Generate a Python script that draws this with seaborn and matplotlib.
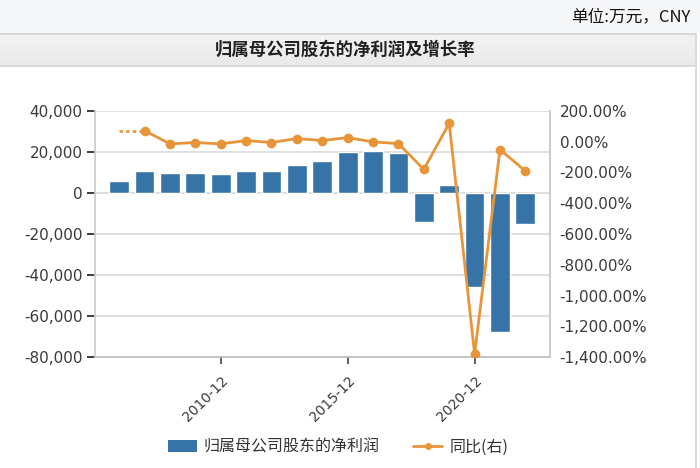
import matplotlib
matplotlib.use("Agg")
import numpy as np
import pandas as pd
import matplotlib.pyplot as plt
import seaborn as sns
from matplotlib.patches import Rectangle, Patch
from matplotlib.lines import Line2D
from matplotlib.ticker import FuncFormatter, FixedLocator

# ---- data ----
periods = ["2006-12", "2007-12", "2008-12", "2009-12", "2010-12", "2011-12",
           "2012-12", "2013-12", "2014-12", "2015-12", "2016-12", "2017-12",
           "2018-12", "2019-12", "2020-12", "2021-12", "2022-12"]
net_profit = [6000, 10600, 9900, 9900, 9100, 10600, 10600, 13700, 15600,
              20000, 20700, 19500, -14000, 4100, -46000, -68000, -15100]
yoy_pct = [np.nan, 72.6, -13.8, -5.0, -13.8, 7.8, -5.0, 20.7, 7.8,
           27.0, -1.0, -12.0, -180.0, 120.0, -1380.0, -51.0, -190.0]
shown_ticks = ["2010-12", "2015-12", "2020-12"]
title = "归属母公司股东的净利润及增长率"
unit_text = "单位:万元，CNY"
bar_label = "归属母公司股东的净利润"
line_label = "同比(右)"

BAR_C = "#3673a6"
LINE_C = "#e8953a"
GRID_C = "#d9d9d9"
TXT_C = "#3a3a3a"

sns.set_theme(style="white")
plt.rcParams["font.family"] = ["Noto Sans CJK SC", "DejaVu Sans"]

W, H = 700, 468
fig = plt.figure(figsize=(7, 4.68), dpi=100)
fig.patch.set_facecolor("white")

def fy(px):
    return 1 - px / H

# top strip
fig.patches.append(Rectangle((0, fy(33)), 1, 33 / H, transform=fig.transFigure,
                             facecolor="#f6f7f9", edgecolor="none", zorder=-5))
# title band gradient
grad = np.linspace(0, 1, 50).reshape(-1, 1)
gax = fig.add_axes([0, fy(66), 696 / W, 33 / H], zorder=-4)
gax.imshow(grad, aspect="auto", cmap=matplotlib.colors.LinearSegmentedColormap.from_list(
    "g", ["#f4f4f4", "#e9e9e9"]), extent=[0, 1, 0, 1])
gax.set_axis_off()
fig.add_artist(Line2D([0, 696 / W], [fy(33.5), fy(33.5)], transform=fig.transFigure,
                      color="#cfcfcf", lw=1.2))
fig.add_artist(Line2D([0, 696 / W], [fy(66), fy(66)], transform=fig.transFigure,
                      color="#d6d6d6", lw=1.2))
fig.add_artist(Line2D([696 / W, 696 / W], [0, fy(33.5)], transform=fig.transFigure,
                      color="#dcdcdc", lw=1.5))

fig.text(690 / W, fy(17), unit_text, ha="right", va="center", fontsize=12, color="#111111")
fig.text(345 / W, fy(50), title, ha="center", va="center", fontsize=12.5,
         fontweight="bold", color="#222222")

# main axes
left, right, top, bottom = 95, 550, 111, 357
ax = fig.add_axes([left / W, fy(bottom), (right - left) / W, (bottom - top) / H])
df = pd.DataFrame({"period": periods, "profit": net_profit})
sns.barplot(data=df, x="period", y="profit", color=BAR_C, saturation=1, width=0.78,
            ax=ax, zorder=2)
ax.set_xlim(-0.95, 16.97)
ax.set_ylim(-80000, 40000)
ax.yaxis.set_major_locator(FixedLocator(np.arange(-80000, 40001, 20000)))
ax.yaxis.set_major_formatter(FuncFormatter(lambda v, p: f"{int(v):,}"))
ax.grid(axis="y", color=GRID_C, lw=1.2)
ax.set_axisbelow(True)
ax.set_xlabel("")
ax.set_ylabel("")
ax.spines["top"].set_visible(False)
for s in ["left", "right"]:
    ax.spines[s].set_color("#cccccc")
ax.spines["bottom"].set_color("#bdbdbd")
ax.spines["bottom"].set_linewidth(1.2)

pos = [periods.index(t) for t in shown_ticks]
ax.set_xticks(pos)
ax.set_xticklabels(shown_ticks, rotation=45, ha="right", va="top",
                   rotation_mode="anchor", fontsize=10, color=TXT_C,
                   family="DejaVu Sans")
ax.tick_params(axis="x", bottom=True, length=5, width=1.2, color="#444444", pad=7)
ax.tick_params(axis="y", left=False, labelsize=11, labelcolor=TXT_C, pad=3)
for lab in ax.get_yticklabels():
    lab.set_family("DejaVu Sans")

# right axis
ax2 = ax.twinx()
xs = np.arange(len(periods))
valid = ~np.isnan(np.array(yoy_pct))
sns.lineplot(x=xs[valid], y=np.array(yoy_pct)[valid], ax=ax2, color=LINE_C,
             lw=2, marker="o", markersize=7, markeredgewidth=0, zorder=3)
first = int(np.argmax(valid))
ax2.plot([first - 1, first], [yoy_pct[first], yoy_pct[first]], ls=(0, (1.2, 1.2)),
         color=LINE_C, lw=2, zorder=3)
ax2.set_ylim(-1400, 200)
ax2.yaxis.set_major_locator(FixedLocator(np.arange(-1400, 201, 200)))
ax2.yaxis.set_major_formatter(FuncFormatter(lambda v, p: f"{v:,.2f}%"))
ax2.tick_params(axis="y", right=False, labelsize=11, labelcolor=TXT_C, pad=1)
for lab in ax2.get_yticklabels():
    lab.set_family("DejaVu Sans")
ax2.set_xlim(-0.95, 16.97)
for s in ["top", "left", "bottom"]:
    ax2.spines[s].set_visible(False)
ax2.spines["right"].set_color("#cccccc")
ax2.grid(False)

handles = [Patch(facecolor=BAR_C, edgecolor="none"),
           Line2D([0], [0], color=LINE_C, lw=2, marker="o", markersize=5,
                  markeredgewidth=0)]
fig.legend(handles, [bar_label, line_label], loc="center", ncol=2,
           bbox_to_anchor=(338 / W, fy(447)), frameon=False, fontsize=11.5,
           handlelength=1.8, handleheight=0.85, columnspacing=2.1, handletextpad=0.45,
           labelcolor="#333333")

fig.savefig("out.png", dpi=100)
